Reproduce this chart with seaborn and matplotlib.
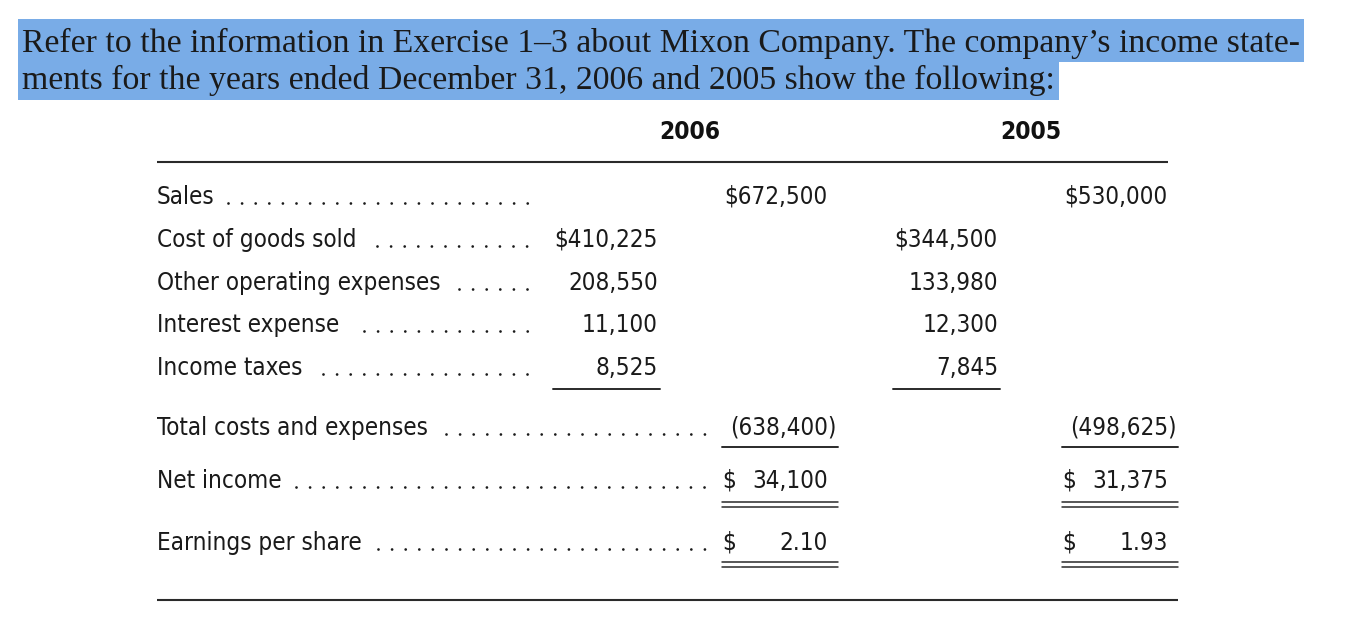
import matplotlib
matplotlib.use("Agg")
import numpy as np
import pandas as pd
import seaborn as sns
import matplotlib.pyplot as plt
from matplotlib import font_manager as fm
from matplotlib.patches import Rectangle

# ---------------- data ----------------
intro_lines = [
    "Refer to the information in Exercise 1\u20133 about Mixon Company. The company\u2019s income state-",
    "ments for the years ended December 31, 2006 and 2005 show the following:",
]
years = ["2006", "2005"]
sales_label = "Sales"
sales = [672500, 530000]
expense_labels = ["Cost of goods sold", "Other operating expenses", "Interest expense", "Income taxes"]
expenses_2006 = [410225, 208550, 11100, 8525]
expenses_2005 = [344500, 133980, 12300, 7845]
summary_labels = ["Total costs and expenses", "Net income", "Earnings per share"]
total_costs = [638400, 498625]
net_income = [34100, 31375]
eps = [2.10, 1.93]

# ---------------- style ----------------
sns.set_theme(style="white")
plt.rcParams["lines.scale_dashes"] = False

names = {f.name for f in fm.fontManager.ttflist}
SERIF = "Liberation Serif" if "Liberation Serif" in names else "DejaVu Serif"
if "Liberation Sans Narrow" in names:
    COND = dict(family="Liberation Sans Narrow")
    CAPR = 0.73
elif any(f.name == "DejaVu Sans" and f.stretch == "condensed" for f in fm.fontManager.ttflist):
    COND = dict(family="DejaVu Sans", stretch="condensed")
    CAPR = 0.729
else:
    COND = dict(family="Roboto")
    CAPR = 0.711

INK = "#1a1a1a"
HILITE = "#79ACE7"

fig = plt.figure(figsize=(13.52, 6.26), dpi=100)
ax = fig.add_axes([0, 0, 1, 1])
ax.set_xlim(0, 1352)
ax.set_ylim(626, 0)
ax.axis("off")
renderer = fig.canvas.get_renderer()


def text_w(s, size, **kw):
    t = ax.text(0, 0, s, fontsize=size, **kw)
    w = t.get_window_extent(renderer).width
    t.remove()
    return w


def fit(s, target, **kw):
    return 20 * target / text_w(s, 20, **kw)


# ---------------- intro paragraph ----------------
hsize = fit(intro_lines[0], 1278, family=SERIF)
base = [52, 89]
box_top = [19, 62]
box_bot = [62, 100]
for line, b, t0, t1 in zip(intro_lines, base, box_top, box_bot):
    w = text_w(line, hsize, family=SERIF)
    ax.add_patch(Rectangle((18, t0), 22 + w + 4 - 18, t1 - t0, color=HILITE, lw=0, zorder=0))
    ax.text(22, b, line, fontsize=hsize, family=SERIF, color=INK, va="baseline", ha="left", zorder=2)

# ---------------- table ----------------
bsize = fit("Other operating expenses", 282, **COND)
cap = CAPR * bsize * 100 / 72 / 2  # half cap height in px
LEFT = 157
cols = [658, 828, 998, 1168]
year_x = [690, 1031]

for y, xc in zip(years, year_x):
    ax.text(xc, 130 + cap, y, fontsize=bsize * 1.02, weight="bold", color="#111111",
            ha="center", va="baseline", **COND)

ax.plot([LEFT, 1168], [162, 162], color="#2a2a2a", lw=1.5, solid_capstyle="butt")
ax.plot([LEFT, 1178], [600, 600], color="#2a2a2a", lw=1.5, solid_capstyle="butt")

STEP = 13.6
PITCH = STEP * 0.72  # points between dots


def leader(label, yc, end):
    lw = text_w(label, bsize, **COND)
    start_min = LEFT + lw + 11
    n = int(np.floor((end - start_min) / STEP)) + 1
    start = end - (n - 1) * STEP
    yb = yc + cap - 1.2
    ax.plot([start, end + 0.5], [yb, yb], color=INK, lw=2.0,
            linestyle=(0, (0.001, PITCH)), dash_capstyle="round")


def label(s, yc, end):
    ax.text(LEFT, yc + cap, s, fontsize=bsize, color=INK, ha="left", va="baseline", **COND)
    leader(s, yc, end)


def num(s, x, yc, ha="right"):
    ax.text(x, yc + cap, s, fontsize=bsize, color=INK, ha=ha, va="baseline", **COND)


def fmt(v):
    return f"{v:,.0f}"


paren_w = text_w(")", bsize, **COND)

# Sales row
label(sales_label, 195, 527)
num("$" + fmt(sales[0]), cols[1], 195)
num("$" + fmt(sales[1]), cols[3], 195)

# expense rows
exp_y = [238, 281, 323, 366]
for i, (lab, a, b, yc) in enumerate(zip(expense_labels, expenses_2006, expenses_2005, exp_y)):
    label(lab, yc, 527)
    pre = "$" if i == 0 else ""
    num(pre + fmt(a), cols[0], yc)
    num(pre + fmt(b), cols[2], yc)

ax.plot([cols[0] - 105, cols[0] + 2], [389, 389], color="#2a2a2a", lw=1.4)
ax.plot([cols[2] - 105, cols[2] + 2], [389, 389], color="#2a2a2a", lw=1.4)

# summary rows
sum_y = [426, 479, 541]
label(summary_labels[0], sum_y[0], 704)
num(f"({fmt(total_costs[0])})", cols[1] + paren_w, sum_y[0])
num(f"({fmt(total_costs[1])})", cols[3] + paren_w, sum_y[0])

label(summary_labels[1], sum_y[1], 704)
label(summary_labels[2], sum_y[2], 704)
for k, c in enumerate([cols[1], cols[3]]):
    xl = c - 106
    num("$", xl, sum_y[1], ha="left")
    num(fmt(net_income[k]), c, sum_y[1])
    num("$", xl, sum_y[2], ha="left")
    num(f"{eps[k]:.2f}", c, sum_y[2])
    ax.plot([xl, c + 10], [447, 447], color="#2a2a2a", lw=1.4)
    for yy in (502, 507, 562, 567):
        ax.plot([xl, c + 10], [yy, yy], color="#2a2a2a", lw=1.1)

fig.savefig("out.png", dpi=100, facecolor="white")
